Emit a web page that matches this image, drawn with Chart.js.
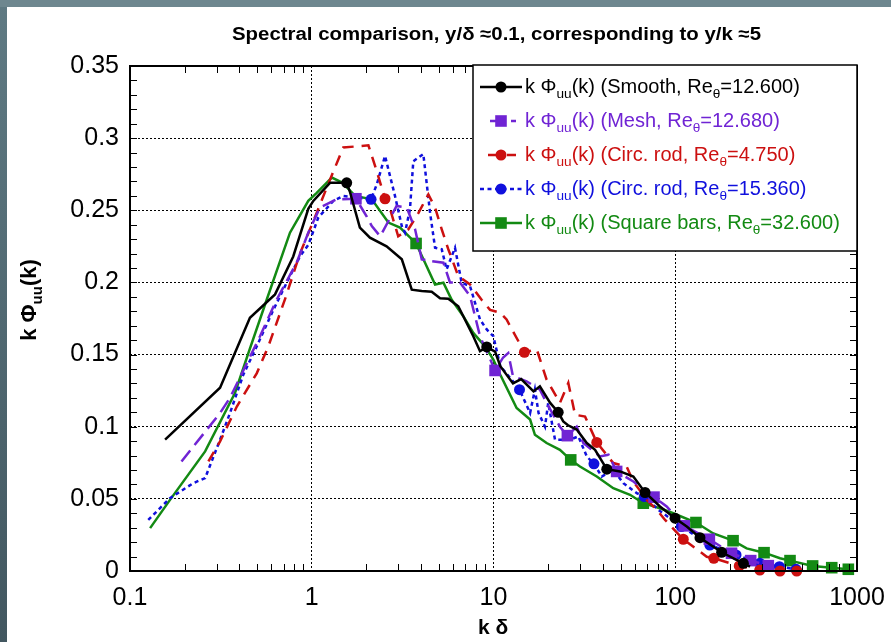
<!DOCTYPE html>
<html><head><meta charset="utf-8">
<script src="https://cdn.jsdelivr.net/npm/chart.js@4.4.1/dist/chart.umd.min.js"></script>
<style>html,body{margin:0;padding:0;background:#4b6069;overflow:hidden}canvas{display:block}</style>
</head><body>
<canvas id="c" width="891" height="642"></canvas>
<script>
// ---------- DATA ----------
const xTicks = [0.1, 1, 10, 100, 1000];
const yTicks = [0, 0.05, 0.1, 0.15, 0.2, 0.25, 0.3, 0.35];

const seriesNames = ['Smooth', 'Mesh', 'Circ. rod', 'Circ. rod', 'Square bars'];
const seriesRe = ['12.600', '12.680', '4.750', '15.360', '32.600'];

const smoothK = [0.156,0.313,0.457,0.628,0.791,0.957,1.02,1.26,1.557,1.62,1.84,2.09,2.58,3.13,3.55,4.03,4.57,5.08,5.64,6.4,6.82,7.74,8.43,9.18,10.2,10.9,12.8,14.2,16.6,18.0,20.5,22.7,24.2,25.7,28.7,32.6,36.2,42.0,49.7,58.8,68.2,82.4,99.7,115.7,136.8,180,237,258];
const smoothV = [0.091,0.127,0.1755,0.1917,0.218,0.251,0.2565,0.269,0.269,0.263,0.238,0.231,0.225,0.216,0.195,0.194,0.1935,0.189,0.1887,0.1835,0.1766,0.1627,0.1523,0.1553,0.152,0.142,0.130,0.133,0.1245,0.128,0.1165,0.110,0.1037,0.101,0.098,0.0887,0.084,0.0706,0.069,0.0655,0.0544,0.0447,0.0366,0.0308,0.0231,0.013,0.0053,0.003];
const smoothMarks = [1.557,9.18,22.7,42.0,68.2,99.7,136.8,180,237];

const meshK = [0.192,0.313,0.355,0.519,0.641,0.826,0.957,1.11,1.37,1.75,2.0,2.14,2.38,2.93,3.33,3.7,4.03,4.57,5.3,5.76,6.54,7.43,8.43,10.2,11.3,12.05,12.8,15.2,18.0,19.6,23.2,25.5,28.7,31.2,38.5,42.9,47.6,58.8,76.4,89.7,112,154,204,260,325];
const meshV = [0.0759,0.1095,0.12,0.1627,0.188,0.2137,0.2345,0.252,0.2576,0.258,0.246,0.239,0.232,0.253,0.252,0.237,0.216,0.2148,0.2137,0.2,0.2,0.1905,0.1627,0.139,0.148,0.151,0.135,0.1315,0.1257,0.1165,0.1,0.0938,0.1,0.0887,0.0794,0.0806,0.069,0.062,0.0512,0.0447,0.0313,0.022,0.0123,0.0072,0.0037];
const meshMarks = [1.75,10.2,25.5,47.6,76.4,112,154,204,260,325];

const rodLowK = [0.27,0.313,0.387,0.498,0.577,0.72,0.861,1.04,1.23,1.49,2.05,2.28,2.53,2.7,2.99,3.4,3.86,4.38,4.77,5.19,5.64,6.4,7.43,8.6,9.57,10.9,11.8,14.8,17.3,19.6,23.2,25.8,28.1,31.9,37.0,45.6,54.0,58.8,69.7,79.1,87.9,110.7,149,163,225,292,377,466];
const rodLowV = [0.0759,0.0898,0.114,0.137,0.1557,0.19,0.22,0.245,0.268,0.2935,0.295,0.277,0.258,0.2507,0.232,0.2368,0.248,0.261,0.2519,0.2368,0.223,0.2044,0.1986,0.188,0.181,0.179,0.1743,0.1516,0.1535,0.1326,0.1165,0.1303,0.1083,0.107,0.0891,0.0748,0.0724,0.062,0.0493,0.0424,0.0354,0.022,0.0099,0.0088,0.0035,0.0007,0,0];
const rodLowMarks = [2.53,14.8,37.0,110.7,163,225,292,377,466];

const rodHighK = [0.126,0.166,0.223,0.259,0.313,0.355,0.42,0.498,0.615,0.728,0.861,0.957,1.087,1.315,1.49,2.12,2.28,2.53,2.87,3.13,3.26,3.47,3.62,4.11,4.48,4.77,5.19,5.52,6.14,6.68,7.43,8.43,9.18,9.98,10.9,12.8,13.9,15.9,16.9,17.7,19.2,20.0,21.8,26.4,29.3,32.6,35.7,39.4,45.6,51.8,61.4,67.6,80.7,108,155,216,292,374,462];
const rodHighV = [0.0354,0.0505,0.0609,0.0644,0.091,0.1095,0.136,0.1557,0.181,0.1998,0.218,0.226,0.245,0.2565,0.26,0.2576,0.268,0.2877,0.26,0.239,0.2345,0.2507,0.284,0.289,0.248,0.224,0.223,0.209,0.224,0.1998,0.1974,0.1743,0.1674,0.1627,0.142,0.1315,0.1257,0.1095,0.1257,0.1095,0.1,0.1165,0.091,0.091,0.0933,0.0794,0.0743,0.0655,0.0701,0.0609,0.054,0.0516,0.0424,0.0308,0.018,0.0111,0.0053,0.003,0.0012];
const rodHighMarks = [2.12,13.9,35.7,67.6,108,155,216,292,374,462];

const squareK = [0.129,0.166,0.259,0.378,0.448,0.565,0.759,0.957,1.065,1.29,1.48,1.73,2.14,2.64,3.06,3.75,4.2,4.77,5.3,5.89,6.82,7.74,8.98,9.98,10.9,13.4,15.9,16.9,19.6,23.2,26.6,29.9,37.0,45.6,56.4,66.7,82.4,97.5,130,162,208,247,308,377,428,570,726,896];
const squareV = [0.0297,0.0493,0.0829,0.1234,0.151,0.188,0.2345,0.2565,0.262,0.2727,0.269,0.26,0.2576,0.2415,0.238,0.227,0.2137,0.1986,0.1998,0.188,0.1766,0.165,0.1557,0.1465,0.136,0.113,0.105,0.0944,0.0887,0.084,0.077,0.0724,0.0655,0.0574,0.0528,0.047,0.0435,0.040,0.0336,0.026,0.021,0.0157,0.0127,0.0088,0.0072,0.0035,0.0023,0.0012];
const squareMarks = [3.75,26.6,66.7,130,208,308,428,570,726,896];

// ---------- STYLES ----------
const styles = [
  {color:'#000000', dash:[], point:'circle', r:5.5},
  {color:'#7024d4', dash:[14,7], point:'rect', r:8.2},
  {color:'#cc1010', dash:[11,8], point:'circle', r:5.5},
  {color:'#1010dd', dash:[4,3.5], point:'circle', r:5.5},
  {color:'#138a13', dash:[], point:'rect', r:8.2}
];
const FONT = "'Liberation Sans', Arial, Helvetica, sans-serif";

function build(k, v, marks){ return k.map((x,i)=>({x:x, y:v[i], m: marks.includes(x)})); }
const raw = [
  build(smoothK, smoothV, smoothMarks),
  build(meshK, meshV, meshMarks),
  build(rodLowK, rodLowV, rodLowMarks),
  build(rodHighK, rodHighV, rodHighMarks),
  build(squareK, squareV, squareMarks)
];

const datasets = raw.map((d,i)=>({
  label: 'k Φuu(k) (' + seriesNames[i] + ', Reθ=' + seriesRe[i] + ')',
  data: d,
  borderColor: styles[i].color,
  backgroundColor: styles[i].color,
  borderWidth: 2.5,
  borderDash: styles[i].dash,
  pointStyle: styles[i].point,
  pointRadius: ctx => (ctx.raw && ctx.raw.m) ? styles[i].r : 0,
  pointHoverRadius: 0,
  pointBorderWidth: 0,
  tension: 0,
  clip: false
}));

function drawSubText(ctx, parts, x, y, size, bold){
  let cx = x;
  for (const [t, sub] of parts){
    const s = sub ? size*0.68 : size;
    ctx.font = (bold?'bold ':'') + s + 'px ' + FONT;
    ctx.fillText(t, cx, y + (sub ? size*0.38 : 0));
    cx += ctx.measureText(t).width;
  }
  return cx - x;
}
function measureSubText(ctx, parts, size, bold){
  let w = 0;
  for (const [t, sub] of parts){
    const s = sub ? size*0.68 : size;
    ctx.font = (bold?'bold ':'') + s + 'px ' + FONT;
    w += ctx.measureText(t).width;
  }
  return w;
}

const deco = {
  id: 'deco',
  beforeDraw(chart){
    const ctx = chart.ctx;
    ctx.save();
    const g = ctx.createLinearGradient(0,0,0,642);
    g.addColorStop(0,'#5f7a83'); g.addColorStop(1,'#425760');
    ctx.fillStyle = g; ctx.fillRect(0,0,891,642);
    ctx.fillStyle = '#6e878f'; ctx.fillRect(0,0,891,7);
    ctx.fillStyle = '#ffffff'; ctx.fillRect(7,7,884,635);
    ctx.restore();
  },
  afterDraw(chart){
    const ctx = chart.ctx;
    const a = chart.chartArea;
    const xs = chart.scales.x, ys = chart.scales.y;
    ctx.save();
    // minor ticks
    ctx.strokeStyle = '#000'; ctx.lineWidth = 1;
    ctx.beginPath();
    for (let i=1;i<35;i++){
      const py = Math.round(ys.getPixelForValue(i/100))+0.5;
      ctx.moveTo(a.left, py); ctx.lineTo(a.left+7, py);
      ctx.moveTo(a.right, py); ctx.lineTo(a.right-7, py);
    }
    for (let d=0; d<xTicks.length-1; d++){
      for (let m=2;m<=9;m++){
        const px = Math.round(xs.getPixelForValue(xTicks[d]*m))+0.5;
        ctx.moveTo(px, a.bottom); ctx.lineTo(px, a.bottom-7);
        ctx.moveTo(px, a.top); ctx.lineTo(px, a.top+7);
      }
    }
    ctx.stroke();
    // frame
    ctx.lineWidth = 2;
    ctx.strokeRect(a.left, a.top, a.right-a.left, a.bottom-a.top);

    // legend
    const lx = 473, ly = 65, lw = a.right - 473, lh = 186;
    ctx.fillStyle = '#fff';
    ctx.fillRect(lx, ly, lw, lh);
    ctx.lineWidth = 1.5; ctx.strokeStyle = '#000';
    ctx.strokeRect(lx, ly, lw, lh);
    const rowY = [87, 121, 155, 189, 223];
    const lineSeg = [[480,522],[490,516],[488,516],[480,522],[480,522]];
    chart.data.datasets.forEach((ds,i)=>{
      const st = styles[i];
      const y = rowY[i];
      ctx.save();
      ctx.strokeStyle = st.color; ctx.lineWidth = 2.5;
      ctx.setLineDash(st.dash);
      ctx.beginPath(); ctx.moveTo(lineSeg[i][0], y); ctx.lineTo(lineSeg[i][1], y); ctx.stroke();
      ctx.setLineDash([]);
      ctx.fillStyle = st.color;
      Chart.helpers.drawPoint(ctx, {pointStyle: st.point, radius: st.r, borderWidth: 0}, 501, y);
      ctx.fillStyle = st.color;
      ctx.textBaseline = 'middle'; ctx.textAlign = 'left';
      drawSubText(ctx, [['k Φ',false],['uu',true],['(k) (' + seriesNames[i] + ', Re',false],['θ',true],['=' + seriesRe[i] + ')',false]], 525, y, 20, false);
      ctx.restore();
    });

    // title
    ctx.fillStyle = '#000';
    ctx.textAlign = 'center'; ctx.textBaseline = 'middle';
    ctx.font = 'bold 18px ' + FONT;
    const title = 'Spectral comparison, y/δ ≈0.1, corresponding to y/k ≈5';
    const tw = ctx.measureText(title).width;
    ctx.save();
    ctx.translate(496.5, 35);
    ctx.scale(529/tw, 1);
    ctx.fillText(title, 0, 0);
    ctx.restore();

    // x axis title
    ctx.textAlign = 'left';
    ctx.font = 'bold 21px ' + FONT;
    const xt = 'k δ';
    ctx.fillText(xt, 493 - ctx.measureText(xt).width/2, 628);

    // y axis title
    ctx.save();
    ctx.translate(30, 300);
    ctx.rotate(-Math.PI/2);
    const yparts = [['k Φ',false],['uu',true],['(k)',false]];
    const yw = measureSubText(ctx, yparts, 22, true);
    ctx.textBaseline = 'middle';
    drawSubText(ctx, yparts, -yw/2, 0, 22, true);
    ctx.restore();

    ctx.restore();
  }
};

new Chart(document.getElementById('c'), {
  type: 'line',
  data: { datasets },
  options: {
    responsive: false,
    animation: false,
    devicePixelRatio: 1,
    layout: { padding: { left: 0, top: 66, right: 34, bottom: 0 } },
    plugins: { legend: { display: false }, tooltip: { enabled: false }, title: { display: false } },
    scales: {
      x: {
        type: 'logarithmic', min: 0.1, max: 1000,
        afterBuildTicks: s => { s.ticks = xTicks.map(v => ({value: v})); },
        afterFit: s => { s.height = 71; s.paddingLeft = 0; s.paddingRight = 0; },
        ticks: { color: '#000', font: { family: FONT, size: 25 }, padding: 12, maxRotation: 0, autoSkip: false,
          callback: v => String(v) },
        grid: { color: '#000', lineWidth: 1, drawTicks: false },
        border: { display: false, dash: [2, 2] }
      },
      y: {
        type: 'linear', min: 0, max: 0.35,
        afterBuildTicks: s => { s.ticks = yTicks.map(v => ({value: v})); },
        afterFit: s => { s.width = 130; s.paddingTop = 0; s.paddingBottom = 0; },
        ticks: { color: '#000', font: { family: FONT, size: 25 }, padding: 11,
          callback: v => String(Math.round(v*100)/100) },
        grid: { color: '#000', lineWidth: 1, drawTicks: false },
        border: { display: false, dash: [2, 2] }
      }
    }
  },
  plugins: [deco]
});
</script>
</body></html>
